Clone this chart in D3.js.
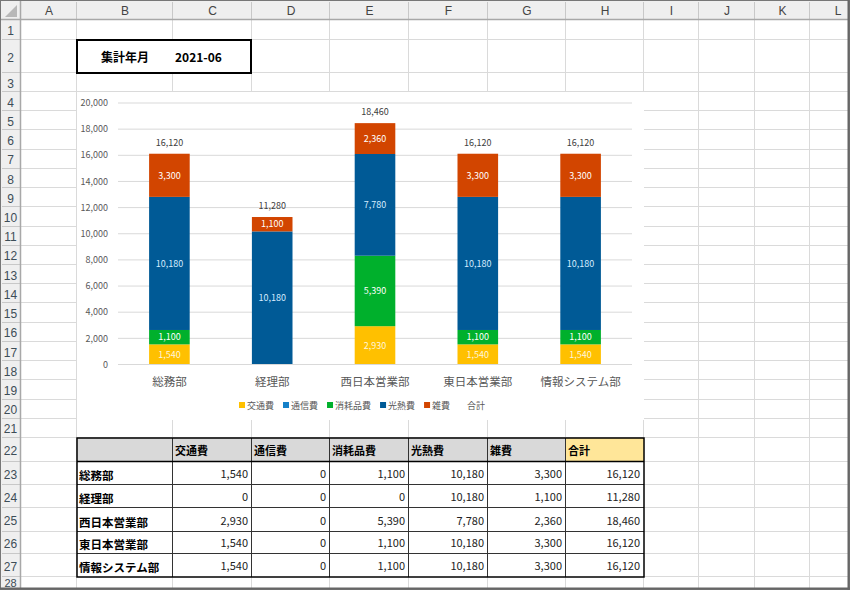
<!DOCTYPE html>
<html>
<head>
<meta charset="utf-8">
<script src="https://cdn.jsdelivr.net/npm/d3@7"></script>
<style>
  body { margin: 0; background: #fff; }
  svg { display: block; font-family: "Noto Sans CJK JP", "Noto Sans", sans-serif; }
</style>
</head>
<body>
<svg id="sheet" width="850" height="590"></svg>
<script>
// Data
const departments = ['総務部', '経理部', '西日本営業部', '東日本営業部', '情報システム部'];
const seriesNames = ['交通費', '通信費', '消耗品費', '光熱費', '雑費'];
const transport = [1540, 0, 2930, 1540, 1540];
const telecom = [0, 0, 0, 0, 0];
const supplies = [1100, 0, 5390, 1100, 1100];
const utilities = [10180, 10180, 7780, 10180, 10180];
const misc = [3300, 1100, 2360, 3300, 3300];
const totals = [16120, 11280, 18460, 16120, 16120];
const yTicks = [0, 2000, 4000, 6000, 8000, 10000, 12000, 14000, 16000, 18000, 20000];
const periodLabel = '集計年月';
const periodValue = '2021-06';

// visual options
const colors = {
  '交通費': '#ffc000',
  '通信費': '#1580c8',
  '消耗品費': '#00b02c',
  '光熱費': '#005a96',
  '雑費': '#d24500',
};
const labelColors = {
  '交通費': '#fff6dc',
  '通信費': '#ffffff',
  '消耗品費': '#ffffff',
  '光熱費': '#d4ecff',
  '雑費': '#ffffff',
};

const svg = d3.select('#sheet');
const fmt = d3.format(',');

// //////////////////////////////////////////////////////////////////////////
// Spreadsheet grid
const colLetters = ['A', 'B', 'C', 'D', 'E', 'F', 'G', 'H', 'I', 'J', 'K', 'L'];
const colEdges = [21, 77, 173, 252, 330, 409, 488, 566, 644, 699, 755, 810, 866];
const rowEdges = [20, 40, 73, 92];
for (let i = 1; i <= 18; i++) rowEdges.push(92 + i * (346 / 18));
rowEdges.push(462, 485, 508, 532, 554, 577, 600);

const grid = svg.append('g').attr('class', 'grid');
grid.selectAll('line.v')
  .data(colEdges.slice(1))
  .enter()
  .append('line')
  .attr('x1', (d) => d - 0.5).attr('x2', (d) => d - 0.5)
  .attr('y1', 20).attr('y2', 590)
  .attr('stroke', '#dadada');
grid.selectAll('line.h')
  .data(rowEdges.slice(1))
  .enter()
  .append('line')
  .attr('x1', 21).attr('x2', 850)
  .attr('y1', (d) => Math.round(d) - 0.5).attr('y2', (d) => Math.round(d) - 0.5)
  .attr('stroke', '#dadada');

// column header
const head = svg.append('g').attr('class', 'headers');
head.append('rect').attr('x', 0).attr('y', 0).attr('width', 850).attr('height', 20).attr('fill', '#efefef');
head.append('rect').attr('x', 0).attr('y', 0).attr('width', 21).attr('height', 590).attr('fill', '#efefef');
colLetters.forEach((c, i) => {
  head.append('text')
    .attr('x', (colEdges[i] + colEdges[i + 1]) / 2)
    .attr('y', 14.5)
    .attr('text-anchor', 'middle')
    .attr('font-family', 'Liberation Sans, Arial, sans-serif')
    .attr('font-size', 12)
    .attr('fill', '#444')
    .text(c);
  head.append('line')
    .attr('x1', colEdges[i + 1] - 0.5).attr('x2', colEdges[i + 1] - 0.5)
    .attr('y1', 2).attr('y2', 19)
    .attr('stroke', '#c8c8c8');
});
for (let r = 0; r < rowEdges.length - 1; r++) {
  const top = rowEdges[r];
  const bottom = rowEdges[r + 1];
  // last row is clipped by the window; keep its number inside the frame
  const ty = Math.min((top + bottom) / 2 + 5, 587);
  head.append('text')
    .attr('x', 10.5)
    .attr('y', ty)
    .attr('text-anchor', 'middle')
    .attr('font-family', 'Liberation Sans, Arial, sans-serif')
    .attr('font-size', r === rowEdges.length - 2 ? 11 : 12)
    .attr('fill', '#3d4d57')
    .text(r + 1);
  head.append('line')
    .attr('x1', 2).attr('x2', 20)
    .attr('y1', Math.round(bottom) - 0.5).attr('y2', Math.round(bottom) - 0.5)
    .attr('stroke', '#c8c8c8');
}
head.append('line').attr('x1', 0).attr('x2', 850).attr('y1', 19.5).attr('y2', 19.5).attr('stroke', '#a8a8a8').attr('stroke-width', 1.5);
head.append('line').attr('x1', 20.5).attr('x2', 20.5).attr('y1', 0).attr('y2', 590).attr('stroke', '#a8a8a8').attr('stroke-width', 1.5);
head.append('path').attr('d', 'M17,5 L17,17 L5,17 Z').attr('fill', '#b8b8b8');

// //////////////////////////////////////////////////////////////////////////
// Period box (B2:C2)
const box = svg.append('g').attr('class', 'period');
box.append('rect')
  .attr('x', 77).attr('y', 40).attr('width', 174).attr('height', 33)
  .attr('fill', '#fff').attr('stroke', '#000').attr('stroke-width', 2);
box.append('text')
  .attr('x', 125).attr('y', 62)
  .attr('text-anchor', 'middle')
  .attr('font-size', 12).attr('font-weight', 'bold').attr('fill', '#000')
  .text(periodLabel);
box.append('text')
  .attr('x', 175).attr('y', 62)
  .attr('font-size', 12).attr('font-weight', 'bold').attr('fill', '#000')
  .text(periodValue);

// //////////////////////////////////////////////////////////////////////////
// Chart
const chart = svg.append('g').attr('class', 'chart');
chart.append('rect').attr('x', 77).attr('y', 92).attr('width', 567).attr('height', 328).attr('fill', '#fff');

const x = d3.scaleBand().domain(departments).range([118, 632]).paddingInner(0.605).paddingOuter(0.3025);
const y = d3.scaleLinear().domain([0, 20000]).range([364.5, 103]);

chart.selectAll('line.gl')
  .data(yTicks)
  .enter()
  .append('line')
  .attr('x1', 118).attr('x2', 632)
  .attr('y1', (d) => y(d)).attr('y2', (d) => y(d))
  .attr('stroke', '#d9d9d9');

chart.selectAll('text.tick')
  .data(yTicks)
  .enter()
  .append('text')
  .attr('x', 108)
  .attr('y', (d) => y(d))
  .attr('dy', '0.35em')
  .attr('text-anchor', 'end')
  .attr('font-size', 9)
  .attr('fill', '#595959')
  .text((d) => fmt(d));

const rows = departments.map((dep, i) => ({
  dep,
  '交通費': transport[i],
  '通信費': telecom[i],
  '消耗品費': supplies[i],
  '光熱費': utilities[i],
  '雑費': misc[i],
  total: totals[i],
}));
const stacked = d3.stack().keys(seriesNames)(rows);

const layers = chart.selectAll('g.layer')
  .data(stacked)
  .enter()
  .append('g')
  .attr('class', 'layer')
  .attr('fill', (d) => colors[d.key]);

layers.selectAll('rect')
  .data((d) => d.filter((s) => s[1] > s[0]))
  .enter()
  .append('rect')
  .attr('x', (d) => x(d.data.dep))
  .attr('width', x.bandwidth())
  .attr('y', (d) => y(d[1]))
  .attr('height', (d) => y(d[0]) - y(d[1]));

stacked.forEach((layer) => {
  chart.selectAll(null)
    .data(layer.filter((s) => s[1] > s[0]))
    .enter()
    .append('text')
    .attr('x', (d) => x(d.data.dep) + x.bandwidth() / 2)
    .attr('y', (d) => y((d[0] + d[1]) / 2))
    .attr('dy', '0.36em')
    .attr('text-anchor', 'middle')
    .attr('font-size', 9)
    .attr('fill', labelColors[layer.key])
    .text((d) => fmt(d[1] - d[0]));
});

// totals above bars
chart.selectAll('text.total')
  .data(rows)
  .enter()
  .append('text')
  .attr('x', (d) => x(d.dep) + x.bandwidth() / 2)
  .attr('y', (d) => y(d.total) - 8)
  .attr('text-anchor', 'middle')
  .attr('font-size', 9)
  .attr('fill', '#404040')
  .text((d) => fmt(d.total));

// category axis
chart.append('line').attr('x1', 118).attr('x2', 632).attr('y1', y(0)).attr('y2', y(0)).attr('stroke', '#d9d9d9');
chart.selectAll('text.cat')
  .data(departments)
  .enter()
  .append('text')
  .attr('x', (d) => x(d) + x.bandwidth() / 2)
  .attr('y', 385.5)
  .attr('text-anchor', 'middle')
  .attr('font-size', 11.5)
  .attr('fill', '#595959')
  .text((d) => d);

// legend
const legendItems = [...seriesNames, '合計'];
const legend = chart.append('g').attr('class', 'legend');
let lx = 239;
legendItems.forEach((name) => {
  if (colors[name]) {
    legend.append('rect').attr('x', lx).attr('y', 402).attr('width', 6).attr('height', 6).attr('fill', colors[name]);
  }
  const t = legend.append('text')
    .attr('x', lx + 8)
    .attr('y', 408.5)
    .attr('font-size', 9)
    .attr('fill', '#595959')
    .text(name);
  lx += 8 + t.node().getComputedTextLength() + 9;
});

// //////////////////////////////////////////////////////////////////////////
// Table B22:H27
const table = svg.append('g').attr('class', 'table');
const tCols = colEdges.slice(1, 9);  // 77 .. 644
const tRows = [438, 462, 485, 508, 532, 554, 577];
const headerCells = ['', ...seriesNames, '合計'];
const seriesValues = [transport, telecom, supplies, utilities, misc, totals];

headerCells.forEach((h, i) => {
  table.append('rect')
    .attr('x', tCols[i]).attr('y', tRows[0])
    .attr('width', tCols[i + 1] - tCols[i]).attr('height', tRows[1] - tRows[0])
    .attr('fill', i === 6 ? '#ffe699' : '#d9d9d9');
  table.append('text')
    .attr('x', tCols[i] + 2).attr('y', tRows[1] - 7)
    .attr('font-size', 11).attr('font-weight', 'bold').attr('fill', '#000')
    .text(h);
});
for (let r = 1; r < tRows.length - 1; r++) {
  table.append('rect')
    .attr('x', tCols[0]).attr('y', tRows[r])
    .attr('width', tCols[7] - tCols[0]).attr('height', tRows[r + 1] - tRows[r])
    .attr('fill', '#fff');
}
departments.forEach((dep, r) => {
  const bottom = tRows[r + 2];
  table.append('text')
    .attr('x', tCols[0] + 2).attr('y', bottom - 5)
    .attr('font-size', 11.5).attr('font-weight', 'bold').attr('fill', '#000')
    .text(dep);
  seriesValues.forEach((vals, c) => {
    table.append('text')
      .attr('x', tCols[c + 2] - 4).attr('y', bottom - 7)
      .attr('text-anchor', 'end')
      .attr('font-size', 11).attr('fill', '#222')
      .text(fmt(vals[r]));
  });
});
// inner lines
tCols.slice(1, -1).forEach((cx) => {
  table.append('line').attr('x1', cx - 0.5).attr('x2', cx - 0.5).attr('y1', tRows[0]).attr('y2', tRows[6]).attr('stroke', '#333');
});
tRows.slice(1, -1).forEach((ry) => {
  table.append('line').attr('x1', tCols[0]).attr('x2', tCols[7]).attr('y1', ry - 0.5).attr('y2', ry - 0.5).attr('stroke', '#333');
});
table.append('line').attr('x1', tCols[0]).attr('x2', tCols[7]).attr('y1', tRows[1] - 0.5).attr('y2', tRows[1] - 0.5).attr('stroke', '#000').attr('stroke-width', 1.5);
table.append('rect')
  .attr('x', tCols[0]).attr('y', tRows[0])
  .attr('width', tCols[7] - tCols[0]).attr('height', tRows[6] - tRows[0])
  .attr('fill', 'none').attr('stroke', '#000').attr('stroke-width', 1.5);

// window frame
svg.append('rect').attr('x', 0.5).attr('y', 0.5).attr('width', 849).attr('height', 589)
  .attr('fill', 'none').attr('stroke', '#777').attr('stroke-width', 1);
svg.append('line').attr('x1', 848.5).attr('x2', 848.5).attr('y1', 0).attr('y2', 590).attr('stroke', '#666').attr('stroke-width', 2);
svg.append('line').attr('x1', 0).attr('x2', 850).attr('y1', 588.5).attr('y2', 588.5).attr('stroke', '#666').attr('stroke-width', 2);
</script>
</body>
</html>
